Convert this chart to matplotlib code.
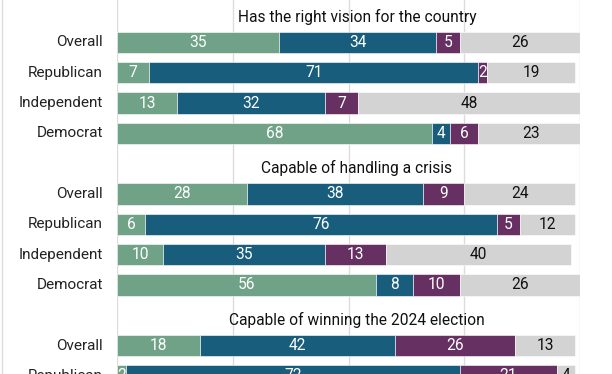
import matplotlib
matplotlib.use("Agg")
import matplotlib.pyplot as plt
from matplotlib.lines import Line2D

plt.rcParams['font.family'] = ['Roboto', 'DejaVu Sans']

# data (percent)
sections = ["Has the right vision for the country",
            "Capable of handling a crisis",
            "Capable of winning the 2024 election"]
groups = ["Overall", "Republican", "Independent", "Democrat"]

# four answer segments per row, left to right
vision_green = [35, 7, 13, 68]
vision_blue = [34, 71, 32, 4]
vision_purple = [5, 2, 7, 6]
vision_gray = [26, 19, 48, 23]

crisis_green = [28, 6, 10, 56]
crisis_blue = [38, 76, 35, 8]
crisis_purple = [9, 5, 13, 10]
crisis_gray = [24, 12, 40, 26]

# only the first two rows of the last block are visible
winning_green = [18, 2]
winning_blue = [42, 72]
winning_purple = [26, 21]
winning_gray = [13, 4]

data = [
    [vision_green, vision_blue, vision_purple, vision_gray],
    [crisis_green, crisis_blue, crisis_purple, crisis_gray],
    [winning_green, winning_blue, winning_purple, winning_gray],
]
colors = ['#70a288', '#185e7c', '#663062', '#d3d3d3']
text_colors = ['white', 'white', 'white', '#111111']

fig = plt.figure(figsize=(6.12, 3.74), dpi=100)
ax = fig.add_axes([117 / 612, 0, 463 / 612, 1])

for s, segs in enumerate(data):
    base = s * 5
    ax.text(51.8, base + 0.15, sections[s], ha='center', va='center',
            fontsize=11.2, color='#111111')
    nrows = len(segs[0])
    for r in range(nrows):
        y = base + r + 1
        left = 0
        for k in range(4):
            v = segs[k][r]
            ax.barh(y, v, left=left, height=0.71, color=colors[k],
                    edgecolor='white', linewidth=0.4, zorder=2)
            ax.text(left + v / 2, y, str(v), ha='center', va='center',
                    fontsize=11.2, color=text_colors[k], zorder=3)
            left += v
        ax.text(-3, y, groups[r], ha='right', va='center', fontsize=11,
                color='#222222', clip_on=False)

ax.set_xlim(0, 100)
ax.set_ylim(11.94, -0.40)
for x in [0, 25, 50, 75, 100]:
    ax.axvline(x, color='#dcdcdc', linewidth=1, zorder=1)
for sp in ax.spines.values():
    sp.set_visible(False)
ax.set_xticks([])
ax.set_yticks([])

fig.add_artist(Line2D([1.5 / 612, 1.5 / 612], [0, 1], color='#dcdcdc',
                      linewidth=1, transform=fig.transFigure))

fig.savefig('out.png', dpi=100)
